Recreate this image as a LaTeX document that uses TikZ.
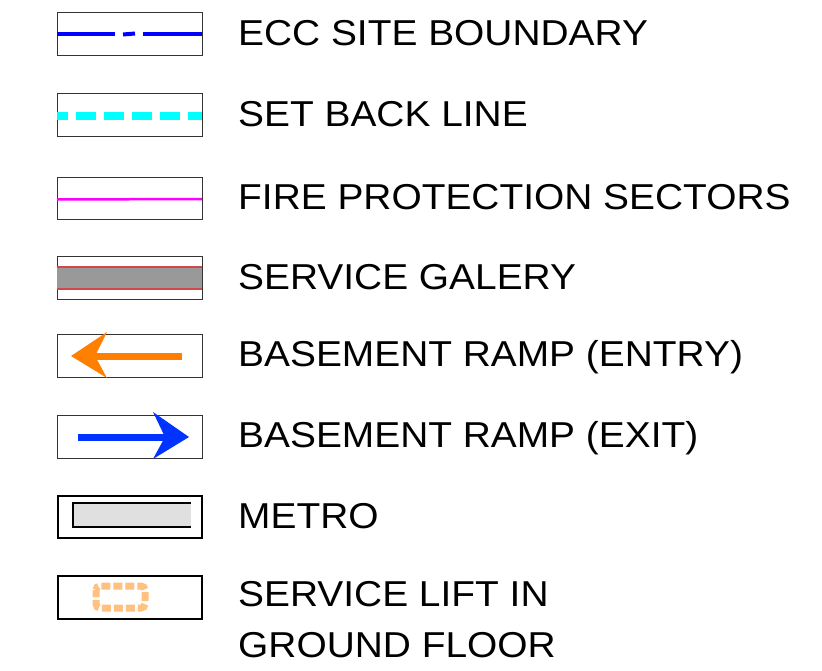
\documentclass[tikz,border=0pt]{standalone}
\usepackage{fontspec}
\setmainfont{Liberation Sans}[FakeStretch=1.08]
\begin{document}
\begin{tikzpicture}[x=1pt,y=-1pt,
  lbl/.style={anchor=base west,inner sep=0pt,font=\fontsize{36}{44}\selectfont},
  frame/.style={draw=black!80,line width=1pt},
  thickframe/.style={draw=black,line width=2pt}]
\useasboundingbox (0,0) rectangle (822,671);
\definecolor{eccblue}{RGB}{0,0,255}
\definecolor{setcyan}{RGB}{0,255,255}
\definecolor{firemag}{RGB}{255,0,255}
\definecolor{galgray}{RGB}{153,153,153}
\definecolor{galred}{RGB}{208,72,72}
\definecolor{rampor}{RGB}{255,128,0}
\definecolor{rampbl}{RGB}{0,51,255}
\definecolor{metrogray}{RGB}{224,224,224}
\definecolor{liftor}{RGB}{255,192,128}
% 1 ECC site boundary
\draw[frame] (57,13) rectangle (202,56);
\draw[eccblue,line width=4pt] (57,34) -- (115,34);
\draw[eccblue,line width=4pt] (123,34.5) -- (135,33.5);
\draw[eccblue,line width=4pt] (143,34) -- (202,34);
\node[lbl] (t1) at (238,45.5) {ECC SITE BOUNDARY};
% 2 set back line
\draw[frame] (57,94) rectangle (202,137);
\draw[setcyan,line width=8pt,dash pattern=on 20pt off 8pt,dash phase=9pt] (57,116) -- (202,116);
\node[lbl] (t2) at (238,126.5) {SET BACK LINE};
% 3 fire protection sectors
\draw[frame] (57,178) rectangle (202,220);
\draw[firemag,line width=2.5pt] (57,199.5) -- (202,199);
\node[lbl] (t3) at (238,210) {FIRE PROTECTION SECTORS};
% 4 service galery
\draw[frame] (57,257) rectangle (202,299);
\fill[galgray] (57,267) rectangle (202,289);
\draw[galred,line width=1.5pt] (57,267) -- (202,267);
\draw[galred,line width=1.5pt] (57,289) -- (202,289);
\node[lbl] (t4) at (238,289) {SERVICE GALERY};
% 5 basement ramp entry
\draw[frame] (57,334) rectangle (202,377);
\fill[rampor] (95,352.5) rectangle (182,359.5);
\fill[rampor] (71,356) -- (107,332) -- (95,356) -- (107,378) -- cycle;
\node[lbl] (t5) at (238,366.5) {BASEMENT RAMP (ENTRY)};
% 6 basement ramp exit
\draw[frame] (57,415) rectangle (202,458);
\fill[rampbl] (78,433.5) rectangle (165,440.5);
\fill[rampbl] (189,437) -- (153,412) -- (165,437) -- (153,459) -- cycle;
\node[lbl] (t6) at (238,447.5) {BASEMENT RAMP (EXIT)};
% 7 metro
\draw[thickframe] (58,496) rectangle (202,538);
\fill[metrogray] (73,503) rectangle (191,527);
\draw[black,line width=1.5pt] (191,503) -- (73,503) -- (73,527) -- (191,527);
\node[lbl] (t7) at (238,528) {METRO};
% 8 service lift
\draw[thickframe] (58,576) rectangle (202,619);
\draw[liftor,line width=7pt,dash pattern=on 9pt off 3pt,dash phase=2pt,rounded corners=4pt] (96,586) rectangle (145,608);
\node[lbl] (t8a) at (238,606) {SERVICE LIFT IN};
\node[lbl] (t8b) at (238,657) {GROUND FLOOR};
\end{tikzpicture}
\end{document}
